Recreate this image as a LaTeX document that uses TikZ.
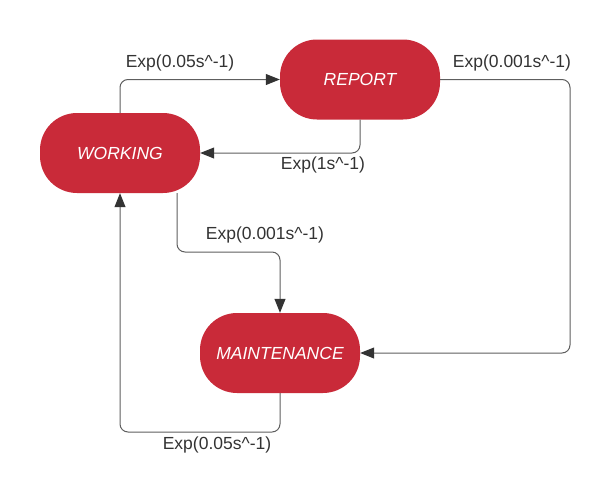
\documentclass[tikz,border=0pt]{standalone}
\usepackage{fontspec}
\setmainfont{Liberation Sans}
\usepackage{xcolor}
\usetikzlibrary{arrows.meta}

\definecolor{statered}{HTML}{C92A39}
\definecolor{linegray}{HTML}{5E5E5E}
\definecolor{textgray}{HTML}{333333}

\begin{document}
\begin{tikzpicture}[x=1pt, y=-1pt,
  every node/.style={font=\fontsize{17.5}{21}\selectfont, text=textgray},
  state/.style={fill=statered, rounded corners=37pt, minimum width=160pt,
    minimum height=80pt, text=white, font=\fontsize{17.5}{21}\selectfont\itshape},
  link/.style={draw=linegray, line width=1pt, rounded corners=8pt,
    -{Triangle[length=14pt,width=11pt,color=textgray]}}]
\useasboundingbox (0,0) rectangle (613,499);

\node[state] (W) at (120,153) {WORKING};
\node[state] (R) at (360,79.5) {REPORT};
\node[state] (M) at (280,353) {MAINTENANCE};

\coordinate (rm) at (570,0);
\coordinate (wm) at (177,252);
\coordinate (mw) at (0,432);

\draw[link] (W.north) |- (R.west);
\draw[link] (R.south) |- (W.east);
\draw[link] (R.east) -- (R.east -| rm) |- (M.east);
\draw[link] (W.south -| wm) -- (wm) -| (M.north);
\draw[link] (M.south) -- (M.south |- mw) -| (W.south);

\node (l1) at (180,63) {Exp(0.05s\^{}-1)};
\node (l2) at (323,165) {Exp(1s\^{}-1)};
\node (l3) at (512,63) {Exp(0.001s\^{}-1)};
\node (l4) at (265,235) {Exp(0.001s\^{}-1)};
\node (l5) at (217,445) {Exp(0.05s\^{}-1)};
\end{tikzpicture}
\end{document}
